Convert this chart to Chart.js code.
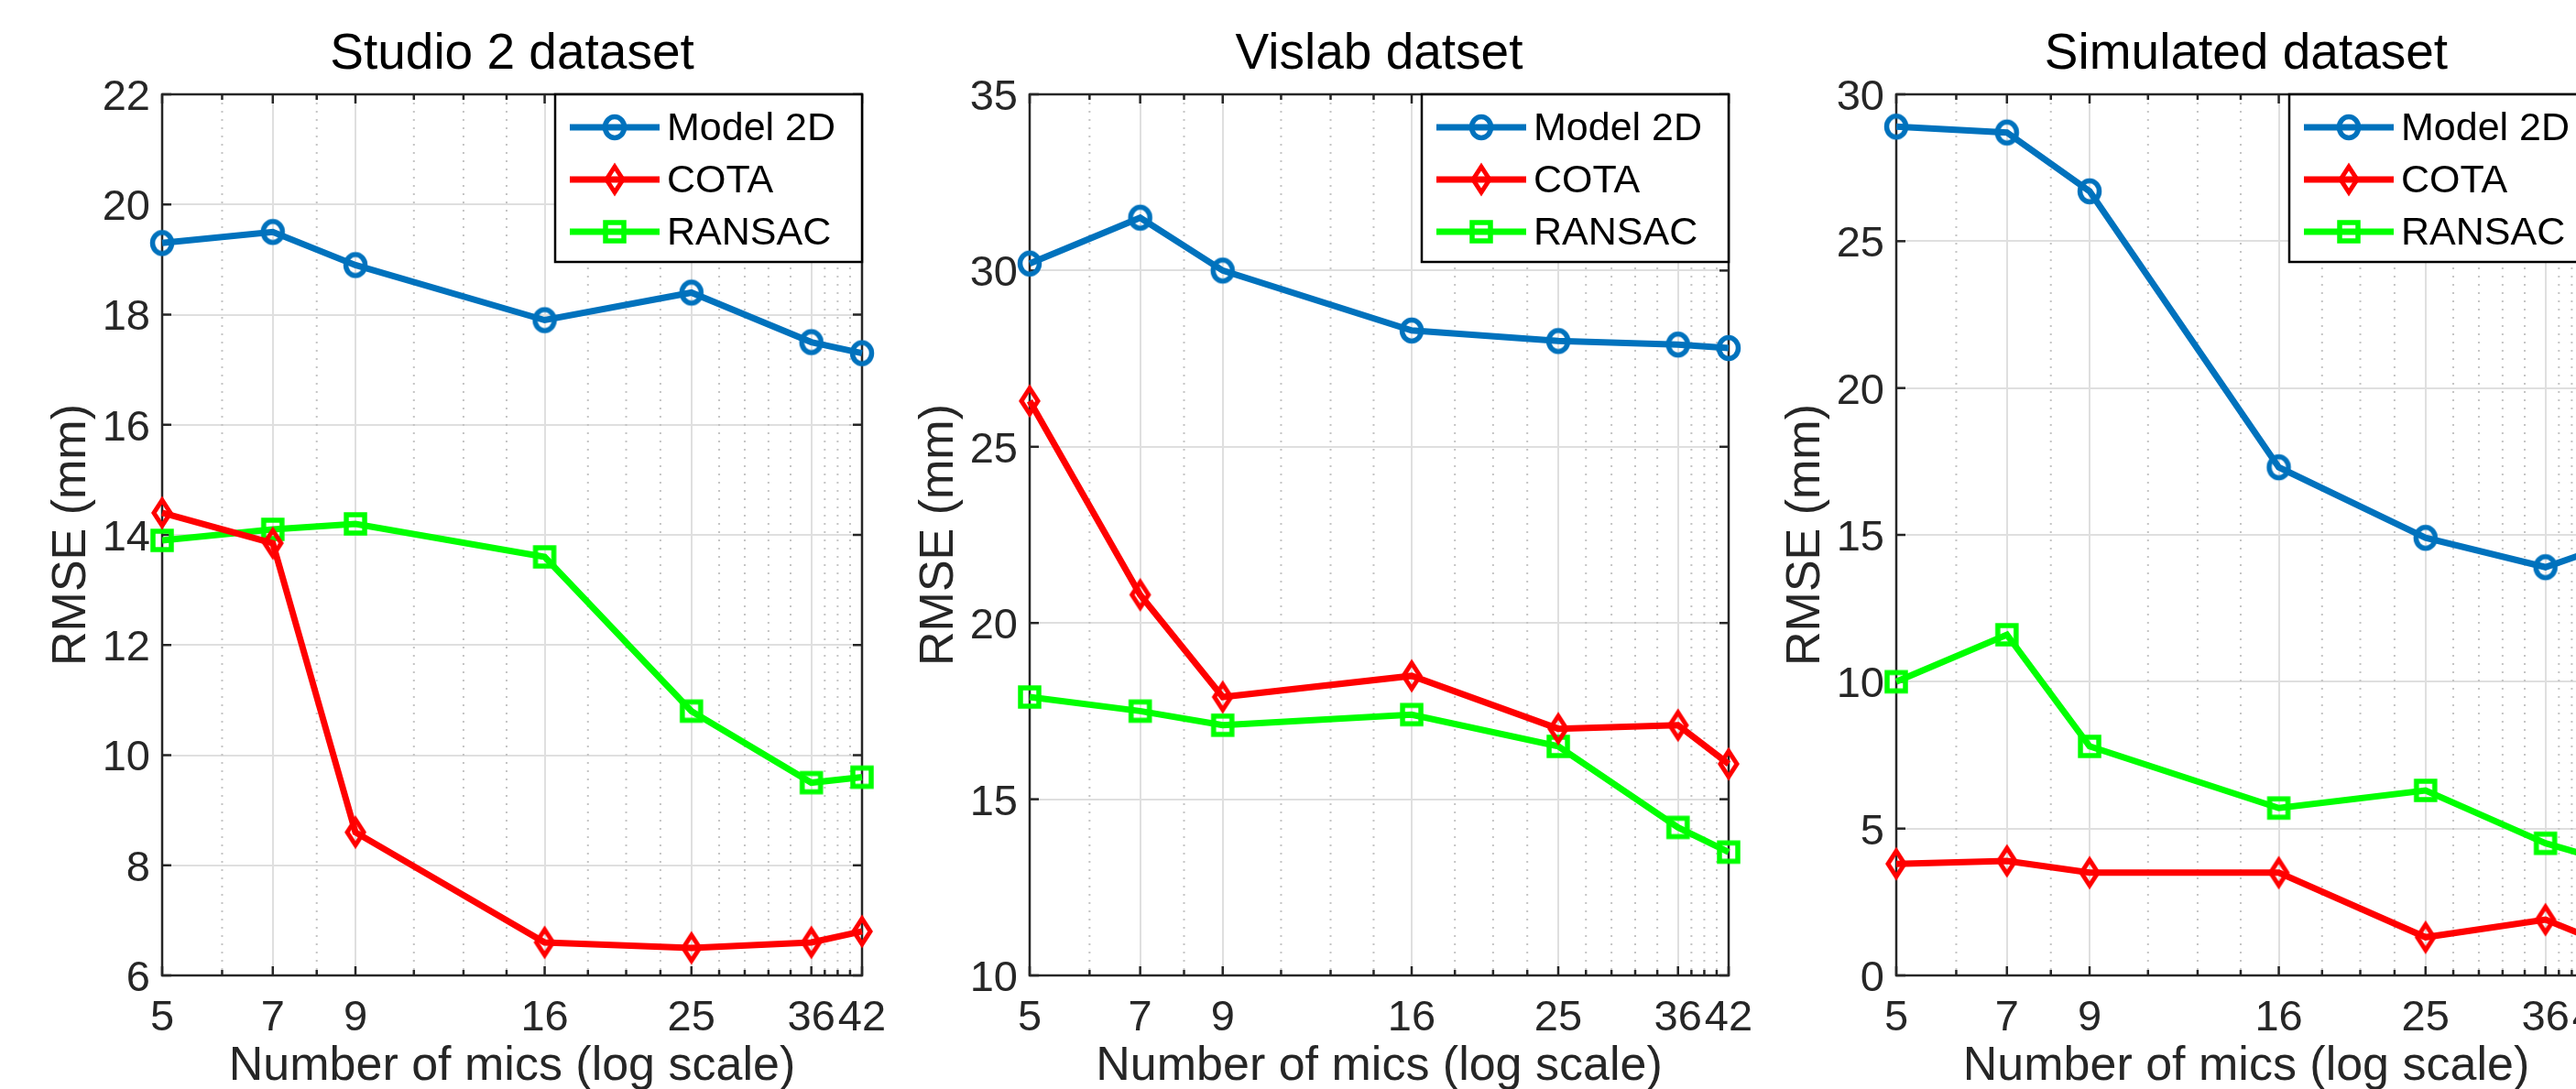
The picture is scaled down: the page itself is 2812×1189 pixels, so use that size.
<!DOCTYPE html>
<html lang="en">
<head>
<meta charset="UTF-8">
<title>RMSE vs number of mics</title>
<script src="https://cdn.jsdelivr.net/npm/chart.js"></script>
<style>
  html, body { margin: 0; padding: 0; background: #fff; overflow: hidden; }
  body { width: 2812px; height: 1189px; position: relative; }
  canvas { position: absolute; top: 0; }
</style>
</head>
<body>
<canvas id="studio" width="1134" height="1189" style="left:-8px"></canvas>
<canvas id="vislab" width="1133" height="1189" style="left:939px"></canvas>
<canvas id="simulated" width="1134" height="1189" style="left:1885px"></canvas>

<script>
  // x positions (number of mics) and the minor grid steps drawn between them
  const mics = [5, 7, 9, 16, 25, 36, 42];
  const minorMics = [6, 8, 10.75, 12.5, 14.25, 18.25, 20.5, 22.75, 27.2, 29.4, 31.6, 33.8, 37.5, 39, 40.5];
  const seriesNames = ["Model 2D", "COTA", "RANSAC"];

  // Studio 2 dataset
  const studioModel2D = [19.3, 19.5, 18.9, 17.9, 18.4, 17.5, 17.3];
  const studioCOTA    = [14.4, 13.85, 8.6, 6.6, 6.5, 6.6, 6.8];
  const studioRANSAC  = [13.9, 14.1, 14.2, 13.6, 10.8, 9.5, 9.6];

  // Vislab dataset
  const vislabModel2D = [30.2, 31.5, 30.0, 28.3, 28.0, 27.9, 27.8];
  const vislabCOTA    = [26.3, 20.8, 17.9, 18.5, 17.0, 17.1, 16.0];
  const vislabRANSAC  = [17.9, 17.5, 17.1, 17.4, 16.5, 14.2, 13.5];

  // Simulated dataset
  const simModel2D = [28.9, 28.7, 26.7, 17.3, 14.9, 13.9, 14.5];
  const simCOTA    = [3.8, 3.9, 3.5, 3.5, 1.3, 1.9, 1.2];
  const simRANSAC  = [10.0, 11.6, 7.8, 5.7, 6.3, 4.5, 4.0];

  // y limits: [min, max, step]
  const studioY = [6, 22, 2];
  const vislabY = [10, 35, 5];
  const simY = [0, 30, 5];

  const FONT = '"Liberation Sans", Arial, Helvetica, sans-serif';
  const axisColor = "#262626";
  const gridColor = "#dfdfdf";
  const minorGridColor = "#c4c4c4";
  const seriesColors = ["#0072BD", "#FF0000", "#00FF00"];

  // MATLAB style open markers
  function makeMarker(kind, color) {
    const c = document.createElement("canvas");
    c.width = 50; c.height = 50;
    const g = c.getContext("2d");
    g.strokeStyle = color;
    g.lineWidth = 5.5;
    g.lineJoin = "miter";
    g.beginPath();
    if (kind === "circle") {
      g.ellipse(25, 25, 10.5, 11.5, 0, 0, Math.PI * 2);
    } else if (kind === "diamond") {
      g.lineWidth = 5;
      g.moveTo(25, 11); g.lineTo(34, 25); g.lineTo(25, 39); g.lineTo(16, 25); g.closePath();
    } else {
      g.rect(15, 15, 20, 20);
    }
    g.stroke();
    return c;
  }
  const markers = [
    makeMarker("circle", seriesColors[0]),
    makeMarker("diamond", seriesColors[1]),
    makeMarker("square", seriesColors[2])
  ];

  function line(ctx, x1, y1, x2, y2) {
    ctx.beginPath(); ctx.moveTo(x1, y1); ctx.lineTo(x2, y2); ctx.stroke();
  }

  // box, inward ticks, dotted minor grid and legend, like a MATLAB axes
  const matlabAxes = {
    id: "matlabAxes",
    beforeDatasetsDraw(chart) {
      const { ctx, chartArea: a, scales: { x, y } } = chart;
      ctx.save();
      ctx.strokeStyle = minorGridColor;
      ctx.lineWidth = 2;
      ctx.setLineDash([2, 7]);
      minorMics.forEach(v => {
        const px = x.getPixelForValue(v);
        line(ctx, px, a.top, px, a.bottom);
      });
      ctx.setLineDash([]);

      ctx.strokeStyle = axisColor;
      ctx.lineWidth = 2.5;
      mics.forEach(v => {
        const px = x.getPixelForValue(v);
        line(ctx, px, a.bottom, px, a.bottom - 10);
        line(ctx, px, a.top, px, a.top + 10);
      });
      minorMics.forEach(v => {
        const px = x.getPixelForValue(v);
        line(ctx, px, a.bottom, px, a.bottom - 6);
        line(ctx, px, a.top, px, a.top + 6);
      });
      y.ticks.forEach(t => {
        const py = y.getPixelForValue(t.value);
        line(ctx, a.left, py, a.left + 10, py);
        line(ctx, a.right, py, a.right - 10, py);
      });
      ctx.strokeRect(a.left, a.top, a.right - a.left, a.bottom - a.top);
      ctx.restore();
    },
    afterDatasetsDraw(chart) {
      const { ctx, chartArea: a } = chart;
      const w = 335, h = 183;
      const left = a.right - w, top = a.top;
      ctx.save();
      ctx.fillStyle = "#fff";
      ctx.fillRect(left, top, w, h);
      ctx.strokeStyle = "#000";
      ctx.lineWidth = 2.5;
      ctx.strokeRect(left, top, w, h);
      chart.data.datasets.forEach((ds, i) => {
        const rowY = top + 36 + i * 57;
        ctx.strokeStyle = ds.borderColor;
        ctx.lineWidth = ds.borderWidth;
        line(ctx, left + 16, rowY, left + 114, rowY);
        const m = ds.pointStyle;
        ctx.drawImage(m, left + 65 - m.width / 2, rowY - m.height / 2);
        ctx.fillStyle = "#000";
        ctx.font = "43px " + FONT;
        ctx.textBaseline = "middle";
        ctx.fillText(ds.label, left + 122, rowY + 2);
      });
      ctx.restore();
    }
  };

  function buildChart(id, title, yLimits, seriesValues) {
    const [yMin, yMax, yStep] = yLimits;
    return new Chart(document.getElementById(id), {
      type: "line",
      data: {
        datasets: seriesNames.map((name, s) => ({
          label: name,
          data: mics.map((m, i) => ({ x: m, y: seriesValues[s][i] })),
          borderColor: seriesColors[s],
          borderWidth: 7,
          pointStyle: markers[s],
          clip: false,
          tension: 0
        }))
      },
      options: {
        responsive: false,
        animation: false,
        devicePixelRatio: 1,
        layout: { padding: 0 },
        plugins: {
          legend: { display: false },
          tooltip: { enabled: false },
          title: {
            display: true,
            text: title,
            color: "#000",
            font: { family: FONT, size: 55, weight: "normal", lineHeight: 1.2 },
            padding: { top: 27, bottom: 10 }
          }
        },
        scales: {
          x: {
            type: "logarithmic",
            min: 5,
            max: 42,
            afterBuildTicks: ax => { ax.ticks = mics.map(v => ({ value: v })); },
            afterFit: ax => { ax.height = 124; },
            grid: { color: gridColor, lineWidth: 2, drawTicks: false },
            border: { display: false },
            ticks: {
              autoSkip: false,
              maxRotation: 0,
              padding: 19,
              color: axisColor,
              font: { family: FONT, size: 47 },
              callback: v => String(v)
            },
            title: {
              display: true,
              text: "Number of mics (log scale)",
              color: axisColor,
              font: { family: FONT, size: 52, lineHeight: 0.9 },
              padding: { top: 0, bottom: 0.6 }
            }
          },
          y: {
            min: yMin,
            max: yMax,
            afterFit: ax => { ax.width = 185; },
            grid: { color: gridColor, lineWidth: 2, drawTicks: false },
            border: { display: false },
            ticks: {
              stepSize: yStep,
              padding: 13,
              labelOffset: 4,
              color: axisColor,
              font: { family: FONT, size: 47 }
            },
            title: {
              display: true,
              text: "RMSE (mm)",
              color: axisColor,
              font: { family: FONT, size: 52, lineHeight: 1.2 },
              padding: { top: 55, bottom: 0 }
            }
          },
          // empty right-hand scale, keeps the plot box centred under its title
          yRight: {
            position: "right",
            min: yMin,
            max: yMax,
            afterFit: ax => { ax.width = 185; },
            grid: { display: false },
            border: { display: false },
            ticks: { display: false }
          }
        }
      },
      plugins: [matlabAxes]
    });
  }

  buildChart("studio", "Studio 2 dataset", studioY, [studioModel2D, studioCOTA, studioRANSAC]);
  buildChart("vislab", "Vislab datset", vislabY, [vislabModel2D, vislabCOTA, vislabRANSAC]);
  buildChart("simulated", "Simulated dataset", simY, [simModel2D, simCOTA, simRANSAC]);
</script>
</body>
</html>
